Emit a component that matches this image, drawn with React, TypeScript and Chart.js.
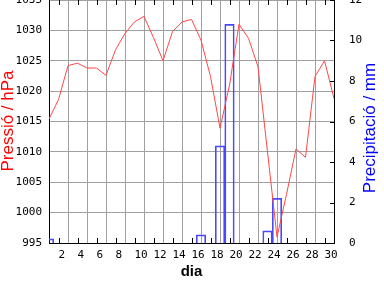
import React, { useEffect, useRef } from "react";
import { Chart, registerables } from "chart.js";

Chart.register(...registerables);

const days: number[] = [
  1, 2, 3, 4, 5, 6, 7, 8, 9, 10, 11, 12, 13, 14, 15, 16, 17, 18, 19, 20, 21, 22,
  23, 24, 25, 26, 27, 28, 29, 30, 31,
];
const pressure: number[] = [
  1015.4, 1018.6, 1024.2, 1024.6, 1023.8, 1023.8, 1022.6, 1026.8, 1029.5, 1031.4,
  1032.3, 1028.8, 1025.0, 1029.8, 1031.4, 1031.8, 1028.4, 1022.4, 1013.9, 1021.0,
  1031.0, 1028.7, 1024.0, 1010.0, 996.0, 1003.0, 1010.5, 1009.1, 1022.4, 1025.0,
  1018.8,
];
const precipDays: number[] = [1, 17, 19, 20, 24, 25];
const precipValues: number[] = [0.2, 0.4, 4.8, 10.8, 0.6, 2.2];
const xTicks: number[] = [2, 4, 6, 8, 10, 12, 14, 16, 18, 20, 22, 24, 26, 28, 30];
const pressureTicks: number[] = [995, 1000, 1005, 1010, 1015, 1020, 1025, 1030, 1035];
const precipTicks: number[] = [0, 2, 4, 6, 8, 10, 12];

const xTitle = "dia";
const leftTitle = "Pressió / hPa";
const rightTitle = "Precipitació / mm";

export default function App() {
  const ref = useRef<HTMLCanvasElement | null>(null);

  useEffect(() => {
    if (!ref.current) return;
    const lineData = days.map((d, i) => ({ x: d, y: pressure[i] }));
    const barData = days.slice(0, 30).map((d) => {
      const k = precipDays.indexOf(d);
      return { x: d, y: k >= 0 ? precipValues[k] : null };
    });

    const decor = {
      id: "decor",
      afterDraw(chart: any) {
        const ctx = chart.ctx;
        const area = chart.chartArea;
        const xs = chart.scales.x;
        const y1 = chart.scales.y1;
        ctx.save();
        ctx.strokeStyle = "#000";
        ctx.lineWidth = 1;
        ctx.beginPath();
        xTicks.forEach((t) => {
          const px = Math.round(xs.getPixelForValue(t)) + 0.5;
          ctx.moveTo(px, area.bottom);
          ctx.lineTo(px, area.bottom - 5);
          ctx.moveTo(px, area.top);
          ctx.lineTo(px, area.top + 5);
        });
        precipTicks.forEach((t) => {
          const py = Math.round(y1.getPixelForValue(t)) + 0.5;
          ctx.moveTo(area.right, py);
          ctx.lineTo(area.right - 4, py);
        });
        ctx.stroke();

        ctx.textAlign = "center";
        ctx.textBaseline = "middle";
        ctx.fillStyle = "#000";
        ctx.font = "bold 15px 'Liberation Sans'";
        ctx.fillText(xTitle, (area.left + area.right) / 2, 272);

        ctx.font = "17px 'Liberation Sans'";
        ctx.fillStyle = "#ff0000";
        ctx.save();
        ctx.translate(8, 121);
        ctx.rotate(-Math.PI / 2);
        ctx.fillText(leftTitle, 0, 0);
        ctx.restore();

        ctx.fillStyle = "#0000ff";
        ctx.save();
        ctx.translate(370, 128);
        ctx.rotate(-Math.PI / 2);
        ctx.fillText(rightTitle, 0, 0);
        ctx.restore();
        ctx.restore();
      },
    };

    const tickFont = { family: "'DejaVu Sans Mono'", size: 11 };

    const chart = new Chart(ref.current, {
      type: "line",
      data: {
        datasets: [
          {
            type: "line",
            data: lineData as any,
            yAxisID: "y",
            borderColor: "#ff4848",
            borderWidth: 1,
            pointRadius: 0,
            tension: 0,
            order: 1,
          },
          {
            type: "bar",
            data: barData as any,
            yAxisID: "y1",
            backgroundColor: "rgba(0,0,0,0)",
            borderColor: "#4848ff",
            borderWidth: 1,
            barPercentage: 1,
            categoryPercentage: 1,
            order: 2,
          } as any,
        ],
      },
      options: {
        responsive: false,
        animation: false,
        devicePixelRatio: 1,
        layout: { padding: 0 },
        plugins: {
          legend: { display: false },
          tooltip: { enabled: false },
        },
        scales: {
          x: {
            type: "linear",
            min: 1,
            max: 31,
            offset: false,
            afterBuildTicks: (s: any) => {
              s.ticks = xTicks.map((v) => ({ value: v }));
            },
            afterFit: (s: any) => {
              s.height = 45;
              s.paddingLeft = 0;
              s.paddingRight = 0;
            },
            ticks: {
              align: "start",
              color: "#000",
              font: tickFont,
              padding: 6,
              maxRotation: 0,
              autoSkip: false,
              callback: (v: any) => String(v),
            },
            grid: { color: "#a0a0a0", lineWidth: 1, drawTicks: false },
            border: { color: "#000", width: 1 },
          },
          y: {
            type: "linear",
            position: "left",
            min: 995,
            max: 1035,
            afterBuildTicks: (s: any) => {
              s.ticks = pressureTicks.map((v) => ({ value: v }));
            },
            afterFit: (s: any) => {
              s.width = 49;
              s.paddingTop = 0;
              s.paddingBottom = 0;
            },
            ticks: {
              color: "#000",
              font: tickFont,
              padding: 7,
              callback: (v: any) => String(v),
            },
            grid: { color: "#a0a0a0", lineWidth: 1, drawTicks: false },
            border: { color: "#000", width: 1 },
          },
          y1: {
            type: "linear",
            position: "right",
            min: 0,
            max: 12,
            afterBuildTicks: (s: any) => {
              s.ticks = precipTicks.map((v) => ({ value: v }));
            },
            afterFit: (s: any) => {
              s.width = 50;
              s.paddingTop = 0;
              s.paddingBottom = 0;
            },
            ticks: {
              color: "#000",
              font: tickFont,
              padding: 15,
              callback: (v: any) => String(v),
            },
            grid: { display: false, drawTicks: false },
            border: { color: "#000", width: 1 },
          },
        },
      },
      plugins: [decor],
    } as any);

    return () => chart.destroy();
  }, []);

  return (
    <div
      style={{
        position: "fixed",
        left: 0,
        top: 0,
        width: 384,
        height: 288,
        background: "#fff",
        overflow: "hidden",
      }}
    >
      <canvas ref={ref} width={384} height={288} style={{ display: "block" }} />
    </div>
  );
}
